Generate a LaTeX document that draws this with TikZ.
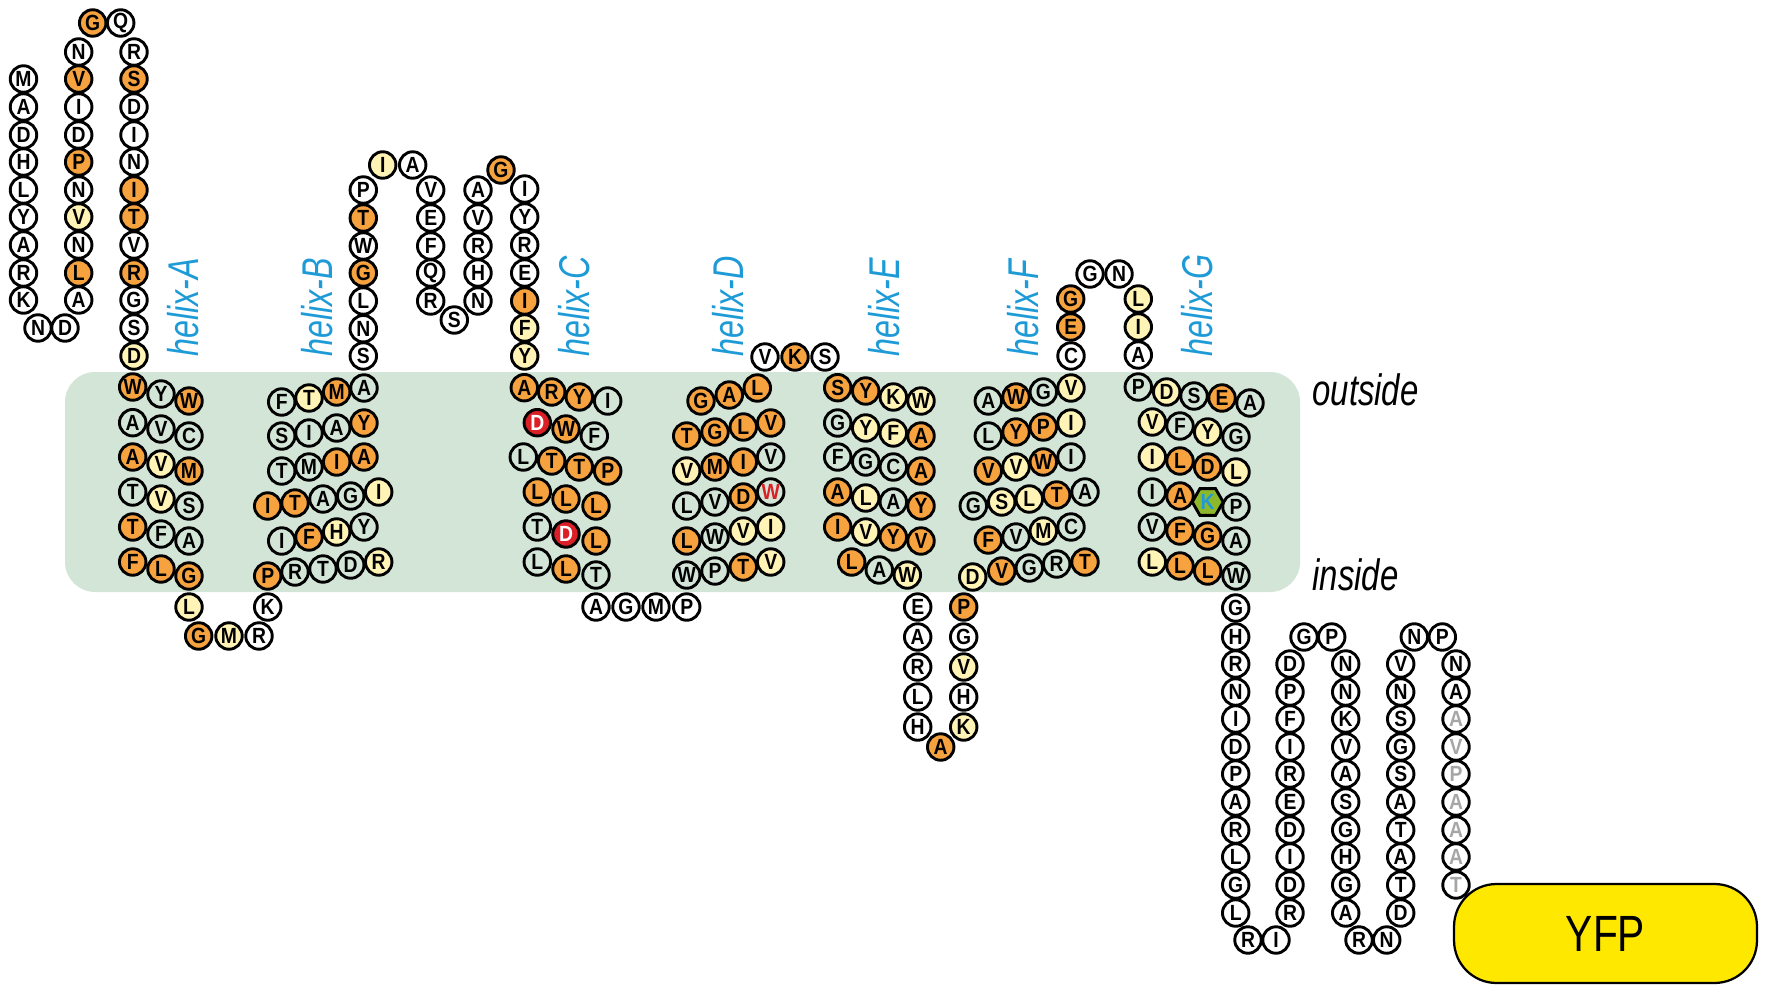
\documentclass[tikz,border=0pt]{standalone}
\usepackage{fontspec}
\setmainfont{Liberation Sans}
\newfontfamily\resfont[FakeStretch=0.88]{Liberation Sans Bold}
\newfontfamily\helixfont[FakeStretch=0.75]{Liberation Sans Italic}
\newfontfamily\yfpfont[FakeStretch=0.8]{Liberation Sans}
\usetikzlibrary{shapes.geometric}
\definecolor{memgreen}{HTML}{D3E5D7}
\definecolor{resorange}{HTML}{F6A23F}
\definecolor{respale}{HTML}{FFF3B5}
\definecolor{resred}{HTML}{DA1F26}
\definecolor{helixblue}{HTML}{1E9BD7}
\definecolor{yfpyellow}{HTML}{FFE800}
\definecolor{lysgreen}{HTML}{8DB82B}
\tikzset{
  res/.style={circle,draw=black,line width=0.058cm,minimum size=0.53cm,inner sep=0pt,font=\resfont\fontsize{12.5}{12.5}\selectfont},
  wt/.style={res,fill=white},
  mem/.style={res,fill=memgreen},
  org/.style={res,fill=resorange},
  pal/.style={res,fill=respale},
  rd/.style={res,fill=resred,text=white},
  gry/.style={res,fill=white,text=black!35},
  lys/.style={regular polygon,regular polygon sides=6,draw=black,line width=0.058cm,fill=lysgreen,minimum size=0.62cm,inner sep=0pt,text=helixblue,font=\resfont\fontsize{12.5}{12.5}\selectfont},
  helixlabel/.style={rotate=90,anchor=base west,inner sep=0pt,text=helixblue,font=\helixfont\fontsize{24.5}{24.5}\selectfont},
  sidelabel/.style={anchor=base west,inner sep=0pt,font=\helixfont\fontsize{25}{25}\selectfont}
}
\begin{document}
\begin{tikzpicture}[x=0.02cm,y=-0.02cm]
      \useasboundingbox (0,0) rectangle (1767,993);
      \draw[fill=memgreen,draw=none,rounded corners=0.6cm] (65,372) rectangle (1300,592);
      % amino end
      \draw
        (23.5,79) node[wt] (0){M}
        (23.5,107) node[wt] (1){A}
        (23.5,135) node[wt] (2){D}
        (23.5,162) node[wt] (3){H}
        (23.5,190) node[wt] (4){L}
        (23.5,217) node[wt] (5){Y}
        (23.5,245) node[wt] (6){A}
        (23.5,273) node[wt] (7){R}
        (23.5,300) node[wt] (8){K}
        (38,328) node[wt] (9){N}
        (65,328) node[wt] (10){D}
        (78.7,300) node[wt] (11){A}
        (78.7,273) node[org] (12){L}
        (78.7,245) node[wt] (13){N}
        (78.7,217) node[pal] (14){V}
        (78.7,190) node[wt] (15){N}
        (78.7,162) node[org] (16){P}
        (78.7,135) node[wt] (17){D}
        (78.7,107) node[wt] (18){I}
        (78.7,79) node[org] (19){V}
        (78.7,52) node[wt] (20){N}
        (92.7,23) node[org] (21){G}
        (120.7,23) node[wt] (22){Q}
        (134,52) node[wt] (23){R}
        (134,79) node[org] (24){S}
        (134,107) node[wt] (25){D}
        (134,135) node[wt] (26){I}
        (134,162) node[wt] (27){N}
        (134,190) node[org] (28){I}
        (134,217) node[org] (29){T}
        (134,245) node[wt] (30){V}
        (134,273) node[org] (31){R}
        (134,300) node[wt] (32){G}
        (134,328) node[wt] (33){S}
        (134,356) node[pal] (34){D};
      % helix A
      \draw
        (132.7,387) node[org] (35){W}
        (161,394) node[mem] (36){Y}
        (189,401) node[org] (37){W}
        (132.7,422.7) node[mem] (38){A}
        (161,429) node[mem] (39){V}
        (189,436) node[mem] (40){C}
        (132.7,457) node[org] (41){A}
        (161,464) node[pal] (42){V}
        (189,471) node[org] (43){M}
        (132.7,492) node[mem] (44){T}
        (161,499) node[pal] (45){V}
        (189,506) node[mem] (46){S}
        (132.7,527) node[org] (47){T}
        (161,534) node[mem] (48){F}
        (189,541) node[mem] (49){A}
        (132.7,562) node[org] (50){F}
        (161,569) node[org] (51){L}
        (189,576) node[org] (52){G};
      % loop A-B
      \draw
        (189,607) node[pal] (53){L}
        (198.7,636) node[org] (54){G}
        (229,636) node[pal] (55){M}
        (259,636) node[wt] (56){R}
        (267.7,607) node[wt] (57){K};
      % helix B
      \draw
        (267.7,576) node[org] (58){P}
        (295,572) node[mem] (59){R}
        (323,569) node[mem] (60){T}
        (350.7,565) node[mem] (61){D}
        (378.7,562) node[pal] (62){R}
        (281.7,541) node[mem] (63){I}
        (309,537) node[org] (64){F}
        (336.7,532) node[pal] (65){H}
        (364,527) node[mem] (66){Y}
        (267.7,506) node[org] (67){I}
        (295,503) node[org] (68){T}
        (323,499) node[mem] (69){A}
        (350.7,496) node[mem] (70){G}
        (378.7,492) node[pal] (71){I}
        (281.7,471) node[mem] (72){T}
        (309,467) node[mem] (73){M}
        (336.7,462) node[org] (74){I}
        (364,457) node[org] (75){A}
        (281.7,436) node[mem] (76){S}
        (309,433) node[mem] (77){I}
        (336.7,428) node[mem] (78){A}
        (364,423) node[org] (79){Y}
        (281.7,402) node[mem] (80){F}
        (309,398) node[pal] (81){T}
        (336.7,392) node[org] (82){M}
        (364,388) node[mem] (83){A};
      % loop B-C
      \draw
        (363.3,356) node[wt] (84){S}
        (363.3,328.7) node[wt] (85){N}
        (363.3,301) node[wt] (86){L}
        (363.3,273) node[org] (87){G}
        (363.3,246) node[wt] (88){W}
        (363.3,218) node[org] (89){T}
        (363.3,190) node[wt] (90){P}
        (382.7,165) node[pal] (91){I}
        (412.7,165) node[wt] (92){A}
        (430.7,190) node[wt] (93){V}
        (430.7,218) node[wt] (94){E}
        (430.7,246) node[wt] (95){F}
        (430.7,273) node[wt] (96){Q}
        (430.7,301) node[wt] (97){R}
        (454.3,320) node[wt] (98){S}
        (478,301) node[wt] (99){N}
        (478,273) node[wt] (100){H}
        (478,246) node[wt] (101){R}
        (478,218) node[wt] (102){V}
        (478,190) node[wt] (103){A}
        (501,170) node[org] (104){G}
        (524.7,189) node[wt] (105){I}
        (524.7,217) node[wt] (106){Y}
        (524.7,245) node[wt] (107){R}
        (524.7,273) node[wt] (108){E}
        (524.7,301) node[org] (109){I}
        (524.7,328) node[pal] (110){F}
        (524.7,356) node[pal] (111){Y};
      % helix C
      \draw
        (524.3,387.7) node[org] (112){A}
        (551.7,392) node[org] (113){R}
        (579.3,397) node[org] (114){Y}
        (607.7,401) node[mem] (115){I}
        (537.3,422.7) node[rd] (116){D}
        (566,429) node[org] (117){W}
        (594.3,436) node[mem] (118){F}
        (523.3,457) node[mem] (119){L}
        (551.7,461) node[org] (120){T}
        (579.3,467) node[org] (121){T}
        (607.7,471) node[org] (122){P}
        (537.3,492) node[org] (123){L}
        (566,499) node[org] (124){L}
        (596,506) node[org] (125){L}
        (537.3,527) node[mem] (126){T}
        (566,534) node[rd] (127){D}
        (596,541) node[org] (128){L}
        (537.3,562) node[mem] (129){L}
        (566,569) node[org] (130){L}
        (596,575) node[mem] (131){T};
      % loop C-D
      \draw
        (596,607) node[wt] (132){A}
        (626,607) node[wt] (133){G}
        (656,607) node[wt] (134){M}
        (686.7,607) node[wt] (135){P};
      % helix D
      \draw
        (686.7,575) node[mem] (136){W}
        (715,571) node[mem] (137){P}
        (743.3,567) node[org] (138){T}
        (770.7,562) node[pal] (139){V}
        (686.7,541) node[org] (140){L}
        (715,537) node[mem] (141){W}
        (743.3,531) node[pal] (142){V}
        (770.7,527) node[pal] (143){I}
        (686.7,506) node[mem] (144){L}
        (715,502) node[mem] (145){V}
        (743.3,497) node[org] (146){D}
        (770.7,492) node[mem,text=resred] (147){W}
        (686.7,471) node[pal] (148){V}
        (715,467) node[org] (149){M}
        (743.3,462) node[org] (150){I}
        (770.7,457) node[mem] (151){V}
        (686.7,436) node[org] (152){T}
        (715,432) node[org] (153){G}
        (743.3,427) node[org] (154){L}
        (770.7,423) node[org] (155){V}
        (701,401) node[org] (156){G}
        (729.3,395) node[org] (157){A}
        (757.3,388) node[org] (158){L};
      % loop D-E
      \draw
        (765,357) node[wt] (159){V}
        (795,357) node[org] (160){K}
        (825,357) node[wt] (161){S};
      % helix E
      \draw
        (837.7,387.7) node[org] (162){S}
        (865.7,391) node[org] (163){Y}
        (893.3,397) node[pal] (164){K}
        (921,401) node[pal] (165){W}
        (837.7,423) node[mem] (166){G}
        (865.7,428) node[pal] (167){Y}
        (893.3,433) node[pal] (168){F}
        (921,436) node[org] (169){A}
        (837.7,457) node[mem] (170){F}
        (865.7,462) node[mem] (171){G}
        (893.3,467) node[mem] (172){C}
        (921,471) node[org] (173){A}
        (837.7,492) node[org] (174){A}
        (865.7,498) node[pal] (175){L}
        (893.3,502) node[mem] (176){A}
        (921,506) node[org] (177){Y}
        (837.7,527) node[org] (178){I}
        (865.7,532) node[pal] (179){V}
        (893.3,537) node[org] (180){Y}
        (921,541) node[org] (181){V}
        (851.7,562) node[org] (182){L}
        (879.3,570) node[mem] (183){A}
        (907.3,575) node[pal] (184){W};
      % loop E-F
      \draw
        (917.7,607) node[wt] (185){E}
        (917.7,637) node[wt] (186){A}
        (917.7,667) node[wt] (187){R}
        (917.7,697) node[wt] (188){L}
        (917.7,727) node[wt] (189){H}
        (940.7,747) node[org] (190){A}
        (963.7,727) node[pal] (191){K}
        (963.7,697) node[wt] (192){H}
        (963.7,667) node[pal] (193){V}
        (963.7,637) node[wt] (194){G}
        (963.7,607) node[org] (195){P};
      % helix F
      \draw
        (972.7,577) node[pal] (196){D}
        (1001.7,571) node[org] (197){V}
        (1029.3,568) node[mem] (198){G}
        (1056.7,564) node[mem] (199){R}
        (1085,562) node[org] (200){T}
        (988.3,540) node[org] (201){F}
        (1016,537) node[mem] (202){V}
        (1043.3,531) node[pal] (203){M}
        (1071,527) node[mem] (204){C}
        (973.3,506) node[mem] (205){G}
        (1001.7,502) node[pal] (206){S}
        (1029.3,499) node[pal] (207){L}
        (1056.7,495) node[org] (208){T}
        (1085,492) node[mem] (209){A}
        (988.3,471) node[org] (210){V}
        (1016,467) node[pal] (211){V}
        (1043.3,462) node[org] (212){W}
        (1071,457) node[mem] (213){I}
        (988.3,436) node[mem] (214){L}
        (1016,432) node[org] (215){Y}
        (1043.3,427) node[org] (216){P}
        (1071,423) node[pal] (217){I}
        (988.3,401) node[mem] (218){A}
        (1016,397) node[org] (219){W}
        (1043.3,392) node[mem] (220){G}
        (1071,388) node[pal] (221){V};
      % loop F-G
      \draw
        (1071,356) node[wt] (222){C}
        (1070.7,327) node[org] (223){E}
        (1070.7,299) node[org] (224){G}
        (1090,274) node[wt] (225){G}
        (1119,274) node[wt] (226){N}
        (1138.3,299) node[pal] (227){L}
        (1138.3,327) node[pal] (228){I}
        (1138.3,355) node[wt] (229){A};
      % helix G
      \draw
        (1138.3,387) node[mem] (230){P}
        (1166.7,392) node[pal] (231){D}
        (1194,396) node[mem] (232){S}
        (1222,398) node[org] (233){E}
        (1250,403) node[mem] (234){A}
        (1152.3,422) node[pal] (235){V}
        (1180,426) node[mem] (236){F}
        (1207.7,432) node[pal] (237){Y}
        (1236,437) node[mem] (238){G}
        (1152.3,457) node[pal] (239){I}
        (1180,461) node[org] (240){L}
        (1207.7,467) node[org] (241){D}
        (1236,472) node[pal] (242){L}
        (1152.3,492) node[mem] (243){I}
        (1180,496) node[org] (244){A}
        (1207.7,502) node[lys] (245){K}
        (1236,507) node[mem] (246){P}
        (1152.3,527) node[mem] (247){V}
        (1180,531) node[org] (248){F}
        (1207.7,536) node[org] (249){G}
        (1236,541) node[mem] (250){A}
        (1152.3,562) node[pal] (251){L}
        (1180,566) node[org] (252){L}
        (1207.7,571) node[org] (253){L}
        (1236,576) node[mem] (254){W};
      % carboxy tail
      \draw
        (1235.7,608) node[wt] (255){G}
        (1235.7,637) node[wt] (256){H}
        (1235.7,664) node[wt] (257){R}
        (1235.7,692) node[wt] (258){N}
        (1235.7,719) node[wt] (259){I}
        (1235.7,747) node[wt] (260){D}
        (1235.7,774) node[wt] (261){P}
        (1235.7,802) node[wt] (262){A}
        (1235.7,830) node[wt] (263){R}
        (1235.7,857) node[wt] (264){L}
        (1235.7,885) node[wt] (265){G}
        (1235.7,913) node[wt] (266){L}
        (1248,940) node[wt] (267){R}
        (1276,940) node[wt] (268){I}
        (1290,913) node[wt] (269){R}
        (1290,885) node[wt] (270){D}
        (1290,857) node[wt] (271){I}
        (1290,830) node[wt] (272){D}
        (1290,802) node[wt] (273){E}
        (1290,774) node[wt] (274){R}
        (1290,747) node[wt] (275){I}
        (1290,719) node[wt] (276){F}
        (1290,692) node[wt] (277){P}
        (1290,664) node[wt] (278){D}
        (1304,637) node[wt] (279){G}
        (1331.7,637) node[wt] (280){P}
        (1345.7,664) node[wt] (281){N}
        (1345.7,692) node[wt] (282){N}
        (1345.7,719) node[wt] (283){K}
        (1345.7,747) node[wt] (284){V}
        (1345.7,774) node[wt] (285){A}
        (1345.7,802) node[wt] (286){S}
        (1345.7,830) node[wt] (287){G}
        (1345.7,857) node[wt] (288){H}
        (1345.7,885) node[wt] (289){G}
        (1345.7,913) node[wt] (290){A}
        (1359,940) node[wt] (291){R}
        (1386.7,940) node[wt] (292){N}
        (1400.7,913) node[wt] (293){D}
        (1400.7,885) node[wt] (294){T}
        (1400.7,857) node[wt] (295){A}
        (1400.7,830) node[wt] (296){T}
        (1400.7,802) node[wt] (297){A}
        (1400.7,774) node[wt] (298){S}
        (1400.7,747) node[wt] (299){G}
        (1400.7,719) node[wt] (300){S}
        (1400.7,692) node[wt] (301){N}
        (1400.7,664) node[wt] (302){V}
        (1414.3,637) node[wt] (303){N}
        (1442.3,637) node[wt] (304){P}
        (1456,664) node[wt] (305){N}
        (1456,692) node[wt] (306){A}
        (1456,719) node[gry] (307){A}
        (1456,747) node[gry] (308){V}
        (1456,774) node[gry] (309){P}
        (1456,802) node[gry] (310){A}
        (1456,830) node[gry] (311){A}
        (1456,857) node[gry] (312){A}
        (1456,885) node[gry] (313){T};
      % labels
      \node[helixlabel] (helixA) at (198,357) {helix-A};
      \node[helixlabel] (helixB) at (332,357) {helix-B};
      \node[helixlabel] (helixC) at (589,357) {helix-C};
      \node[helixlabel] (helixD) at (743,357) {helix-D};
      \node[helixlabel] (helixE) at (899,357) {helix-E};
      \node[helixlabel] (helixF) at (1038,357) {helix-F};
      \node[helixlabel] (helixG) at (1212,357) {helix-G};
      \node[sidelabel] (outside) at (1312,405) {outside};
      \node[sidelabel] (inside) at (1312,590) {inside};
      \node[draw=black,line width=0.045cm,fill=yfpyellow,rounded corners=0.85cm,minimum width=6.06cm,minimum height=1.98cm,font=\yfpfont\fontsize{29}{29}\selectfont] (yfp) at (1605.5,933.5) {YFP};
    \end{tikzpicture}
\end{document}
